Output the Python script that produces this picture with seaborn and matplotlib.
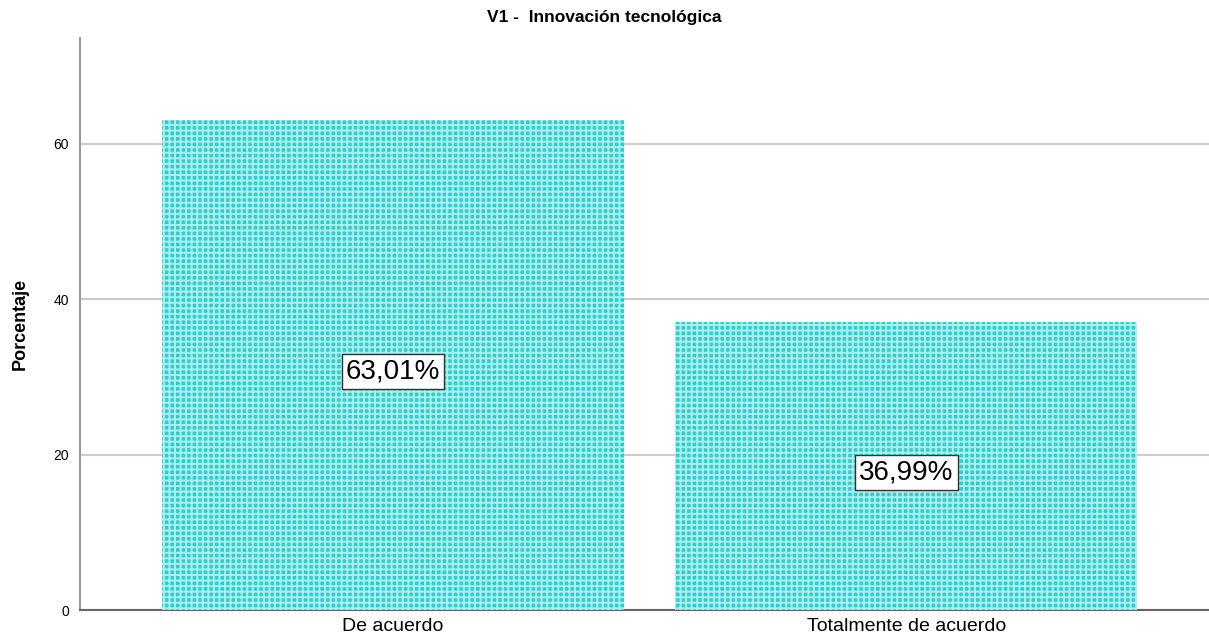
import pandas as pd
import matplotlib.pyplot as plt
import seaborn as sns

categories = ['De acuerdo', 'Totalmente de acuerdo']
percentages = [63.01, 36.99]
value_labels = ['63,01%', '36,99%']

df = pd.DataFrame({'categoria': categories, 'porcentaje': percentages})

sns.set_style('white')
plt.rcParams['font.family'] = ['Liberation Sans', 'DejaVu Sans']
plt.rcParams['hatch.linewidth'] = 1.4
plt.rcParams['text.color'] = 'black'
plt.rcParams['xtick.color'] = 'black'
plt.rcParams['ytick.color'] = 'black'
plt.rcParams['axes.labelcolor'] = 'black'

fig = plt.figure(figsize=(12.09, 6.42), dpi=100)
ax = fig.add_axes([0.0662, 0.0498, 0.9338, 0.8912])

sns.barplot(x='categoria', y='porcentaje', data=df, color='#2ccfcf',
            width=0.9, saturation=1, ax=ax, zorder=3)
for bar in ax.patches:
    bar.set_hatch('+++')
    bar.set_edgecolor('#aeeeec')
    bar.set_linewidth(0)

# value labels in boxes near mid height
for i, (v, lab) in enumerate(zip(percentages, value_labels)):
    ax.text(i, v / 2 - 0.8, lab, ha='center', va='center', fontsize=20, zorder=5,
            bbox=dict(facecolor='white', edgecolor='#333333', boxstyle='square,pad=0.15', lw=1))

ax.set_ylim(0, 73.6)
ax.set_xlim(-0.61, 1.59)
ax.set_yticks([0, 20, 40, 60])
ax.yaxis.grid(True, color='#cccccc', lw=1.5, zorder=0)
ax.set_axisbelow(True)
ax.tick_params(axis='y', labelsize=10, length=0, pad=8)
ax.tick_params(axis='x', labelsize=14, length=0, pad=6)

for side in ['top', 'right']:
    ax.spines[side].set_visible(False)
ax.spines['left'].set_color('#999999')
ax.spines['left'].set_linewidth(1.5)
ax.spines['bottom'].set_color('#666666')
ax.spines['bottom'].set_linewidth(1.5)

ax.set_xlabel('')
ax.set_ylabel('Porcentaje', fontsize=13, fontweight='bold', labelpad=18)
fig.text(0.5, 0.972, 'V1 -  Innovación tecnológica', ha='center', va='center',
         fontsize=12.5, fontweight='bold')

plt.savefig('out.png', dpi=100)
